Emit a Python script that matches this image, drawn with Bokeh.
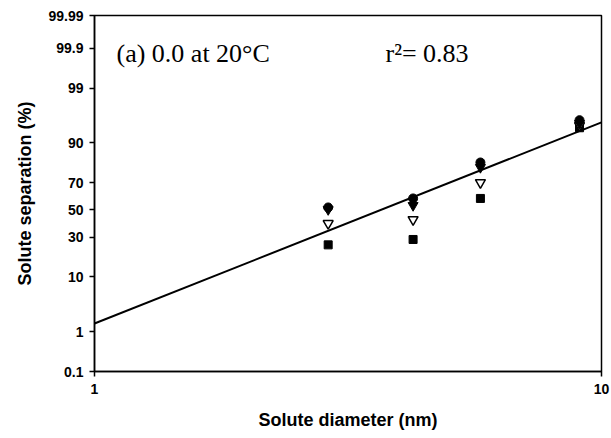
from statistics import NormalDist

from bokeh.embed import file_html
from bokeh.models import FixedTicker, Label, Range1d
from bokeh.plotting import figure
from bokeh.resources import INLINE

# Solute diameter (nm) for the four test solutes
diameter_nm = [2.89, 4.25, 5.77, 9.05]

# Solute separation (%) for each series
sep_circle = [51.9, 58.7, 81.8, 95.7]
sep_tri_filled = [50.3, 53.4, 79.2, 95.1]
sep_tri_open = [39.8, 42.7, 70.0, 94.7]
sep_square = [25.2, 28.6, 58.7, 94.2]

# Fitted log-normal line (end points)
fit_diameter = [1, 10]
fit_sep = [1.49, 95.3]

# Probability-axis ticks
y_ticks_pct = [0.1, 1, 10, 30, 50, 70, 90, 99, 99.9, 99.99]
y_tick_labels = ["0.1", "1", "10", "30", "50", "70", "90", "99", "99.9", "99.99"]
x_ticks = [1, 10]
x_tick_labels = ["1", "10"]

_nd = NormalDist()


def probit(values):
    """Map percentages onto the normal-probability axis."""
    return [_nd.inv_cdf(v / 100.0) for v in values]


y_lo, y_hi = probit([y_ticks_pct[0], y_ticks_pct[-1]])

p = figure(
    width=611,
    height=438,
    x_axis_type="log",
    x_range=Range1d(1, 10),
    y_range=Range1d(y_lo, y_hi),
    output_backend="svg",
    toolbar_location=None,
    min_border_left=94,
    min_border_right=10,
    min_border_top=15,
    min_border_bottom=67,
    background_fill_color="white",
    border_fill_color="white",
)
p.grid.visible = False
p.outline_line_color = "black"
p.outline_line_width = 1.5
p.outline_line_alpha = 1.0

# regression line
p.line(fit_diameter, probit(fit_sep), line_color="black", line_width=2)

# data series
p.scatter(diameter_nm, probit(sep_square), marker="square", size=8,
          fill_color="black", line_color="black")
p.scatter(diameter_nm, probit(sep_tri_open), marker="inverted_triangle", size=10,
          fill_color="white", line_color="black", line_width=1.5)
p.scatter(diameter_nm, probit(sep_tri_filled), marker="inverted_triangle", size=10,
          fill_color="black", line_color="black")
p.scatter(diameter_nm, probit(sep_circle), marker="circle", size=9,
          fill_color="black", line_color="black")

# axes
tick_font = "Liberation Sans"
for ax in (p.xaxis[0], p.yaxis[0]):
    ax.axis_line_color = "black"
    ax.axis_line_width = 1.5
    ax.major_tick_line_color = "black"
    ax.major_tick_line_width = 1.5
    ax.major_tick_in = 0
    ax.major_tick_out = 5
    ax.minor_tick_line_color = None
    ax.major_label_text_font = tick_font
    ax.major_label_text_font_style = "bold"
    ax.major_label_text_font_size = "14px"
    ax.major_label_text_color = "black"
    ax.axis_label_text_font = tick_font
    ax.axis_label_text_font_style = "bold"
    ax.axis_label_text_font_size = "18px"
    ax.axis_label_text_color = "black"

p.xaxis.ticker = FixedTicker(ticks=x_ticks)
p.xaxis.major_label_overrides = {t: s for t, s in zip(x_ticks, x_tick_labels)}
p.xaxis.axis_label = "Solute diameter (nm)"
p.xaxis.major_label_standoff = 7
p.xaxis.axis_label_standoff = 13

y_tick_pos = probit(y_ticks_pct)
p.yaxis.ticker = FixedTicker(ticks=y_tick_pos)
p.yaxis.major_label_overrides = {t: s for t, s in zip(y_tick_pos, y_tick_labels)}
p.yaxis.axis_label = "Solute separation (%)"
p.yaxis.major_label_standoff = 6
p.yaxis.axis_label_standoff = 10

# annotations in the upper part of the plot
p.add_layout(Label(x=22, y=318, x_units="screen", y_units="screen",
                   text="(a) 0.0 at 20°C", text_font="Liberation Serif",
                   text_font_size="26px", text_baseline="middle",
                   text_align="left", text_color="black"))
p.add_layout(Label(x=291, y=318, x_units="screen", y_units="screen",
                   text="r²= 0.83", text_font="Liberation Serif",
                   text_font_size="26px", text_baseline="middle",
                   text_align="left", text_color="black"))

open("out.html", "w").write(file_html(p, INLINE))
